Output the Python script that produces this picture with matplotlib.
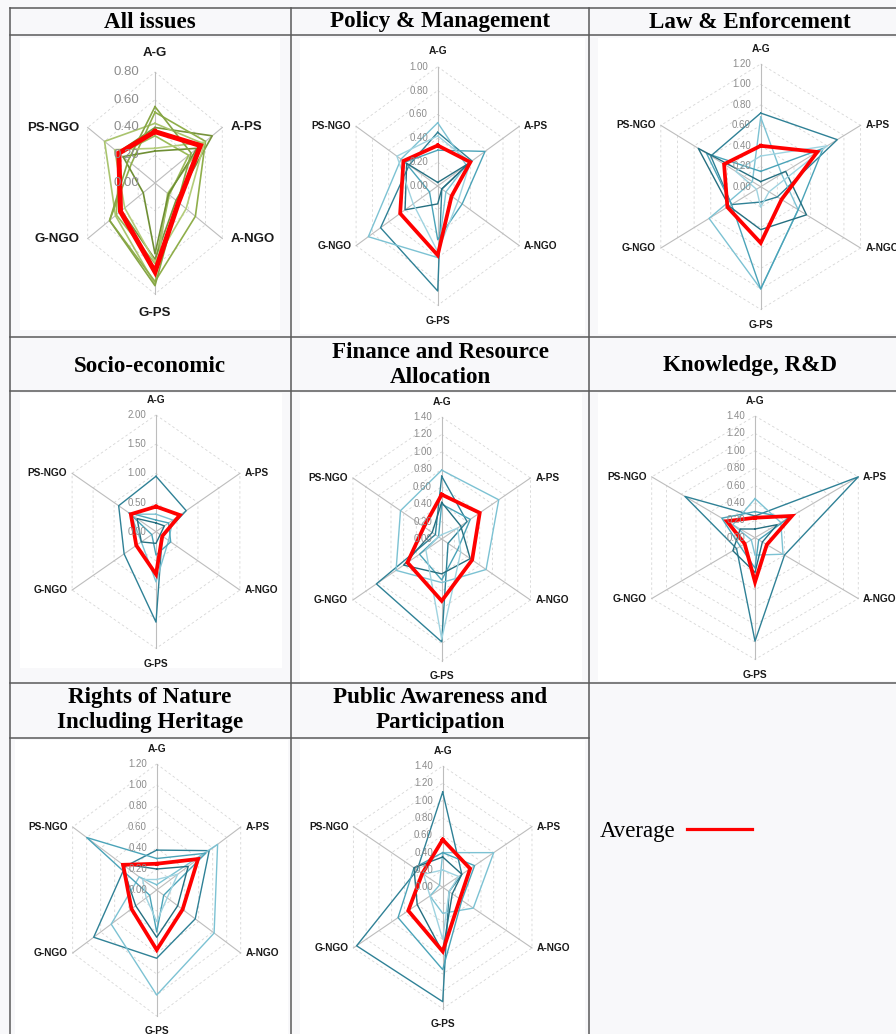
import numpy as np
import matplotlib
matplotlib.use('Agg')
import matplotlib.pyplot as plt
from matplotlib.patches import Rectangle

# axes of every radar, clockwise from the top
axis_names = ['A-G', 'A-PS', 'A-NGO', 'G-PS', 'G-NGO', 'PS-NGO']

# average of each issue (red line in each panel, green lines in "All issues")
policy_avg = [0.34, 0.40, 0.17, 0.58, 0.46, 0.42]
law_avg = [0.40, 0.68, 0.25, 0.55, 0.40, 0.44]
socio_avg = [0.43, 0.57, 0.15, 0.73, 0.47, 0.60]
finance_avg = [0.51, 0.60, 0.48, 0.71, 0.54, 0.28]
knowledge_avg = [0.23, 0.50, 0.16, 0.51, 0.14, 0.38]
rights_avg = [0.25, 0.59, 0.37, 0.57, 0.36, 0.48]
public_avg = [0.55, 0.43, 0.27, 0.74, 0.54, 0.32]
all_avg = [0.37, 0.54, 0.28, 0.64, 0.41, 0.43]

# individual lines of each issue
policy_series = [[0.45, 0.42, 0.05, 0.88, 0.70, 0.35],
                 [0.53, 0.35, 0.10, 0.60, 0.85, 0.45],
                 [0.30, 0.58, 0.30, 0.45, 0.10, 0.40],
                 [0.03, 0.38, 0.05, 0.15, 0.40, 0.38],
                 [0.42, 0.40, 0.25, 0.55, 0.30, 0.50]]
law_series = [[0.72, 0.92, 0.20, 0.15, 0.35, 0.60],
              [0.68, 0.25, 0.45, 1.00, 0.62, 0.10],
              [0.15, 0.75, 0.45, 1.00, 0.35, 0.65],
              [0.05, 0.30, 0.55, 0.42, 0.38, 0.75],
              [0.30, 0.80, 0.10, 0.20, 0.05, 0.30]]
socio_series = [[0.95, 0.72, 0.15, 1.55, 0.76, 0.89],
                [0.30, 0.40, 0.30, 0.86, 0.35, 0.60],
                [0.20, 0.30, 0.35, 0.40, 0.10, 0.65],
                [0.15, 0.20, 0.10, 0.20, 0.35, 0.45]]
finance_series = [[0.72, 0.40, 0.10, 1.18, 1.03, 0.10],
                  [0.79, 0.90, 0.70, 0.50, 0.72, 0.65],
                  [0.40, 0.45, 0.25, 0.47, 0.35, 0.05],
                  [0.42, 0.30, 0.45, 0.40, 0.60, 0.15],
                  [0.05, 0.25, 0.30, 1.15, 0.25, 0.05]]
knowledge_series = [[0.25, 1.40, 0.40, 1.19, 0.25, 0.95],
                    [0.45, 0.35, 0.38, 0.20, 0.05, 0.30],
                    [0.30, 0.45, 0.05, 0.35, 0.20, 0.45],
                    [0.10, 0.30, 0.10, 0.40, 0.30, 0.20]]
rights_series = [[0.38, 0.75, 0.55, 0.65, 0.90, 0.45],
                 [0.05, 0.87, 0.82, 1.00, 0.65, 0.25],
                 [0.30, 0.70, 0.10, 0.40, 0.10, 1.00],
                 [0.20, 0.45, 0.30, 0.45, 0.30, 0.50],
                 [0.10, 0.30, 0.15, 0.30, 0.15, 0.20]]
public_series = [[1.10, 0.30, 0.10, 1.32, 1.35, 0.40],
                 [0.40, 0.80, 0.48, 0.30, 0.20, 0.05],
                 [0.40, 0.50, 0.30, 0.95, 0.70, 0.45],
                 [0.35, 0.30, 0.15, 0.75, 0.40, 0.45],
                 [0.20, 0.25, 0.10, 0.60, 0.20, 0.30]]

W, H = 896, 1034
fig = plt.figure(figsize=(W / 100, H / 100), dpi=100)
fig.patch.set_facecolor('#f8f8fa')

bg = fig.add_axes([0, 0, 1, 1])
bg.set_xlim(0, W)
bg.set_ylim(H, 0)
bg.axis('off')

# white picture areas inside the table cells
for x0, y0, x1, y1 in [(20, 38, 280, 330), (300, 38, 585, 334), (598, 38, 896, 334),
                       (20, 393, 282, 668), (300, 393, 582, 681), (598, 393, 896, 681),
                       (15, 740, 288, 1034), (300, 740, 585, 1034)]:
    bg.add_patch(Rectangle((x0, y0), x1 - x0, y1 - y0, facecolor='white', lw=0))

# table lines
lc, lw = '#5a5a5a', 1.1
for y in [8, 35, 337, 391, 683]:
    bg.plot([10, 912], [y, y], color=lc, lw=lw)
bg.plot([10, 589], [738, 738], color=lc, lw=lw)
for x in [10, 291, 589]:
    bg.plot([x, x], [8, H + 5], color=lc, lw=lw)

title_font = dict(family='Liberation Serif', weight='bold', fontsize=16.6,
                  ha='center', va='center', linespacing=1.25)
titles = [(150, 22, 'All issues'), (440, 22, 'Policy & Management'),
          (750, 22, 'Law & Enforcement'), (150, 366, 'Socio-economic'),
          (440, 365, 'Finance and Resource\nAllocation'), (750, 366, 'Knowledge, R&D'),
          (150, 710, 'Rights of Nature\nIncluding Heritage'),
          (440, 710, 'Public Awareness and\nParticipation')]
for x, y, t in titles:
    bg.text(x, y, t, **title_font)

# legend cell
bg.text(600, 832, 'Average', family='Liberation Serif', fontsize=16.5, ha='left', va='center')
bg.plot([687, 752], [829, 829], color='red', lw=2.3)

label_fam = 'Liberation Sans'
teal = ['#2f8196', '#7cc2d3', '#4aa3b8', '#256f80', '#9fd3e0']
green = ['#9bbb59', '#77933c', '#a9c46e', '#8fae4a', '#6f8f34', '#b3cc7a', '#86a545']


def radar(cx, cy, R, f, rmax, step, series, colors, avg, big=False):
    ax = fig.add_axes([(cx - R * f) / W, 1 - (cy + R) / H, 2 * R * f / W, 2 * R / H],
                      projection='polar')
    ax.set_aspect('auto')
    ax.set_theta_offset(np.pi / 2)
    ax.set_theta_direction(-1)
    ax.set_ylim(0, rmax)
    ax.axis('off')
    theta = np.linspace(0, 2 * np.pi, 6, endpoint=False)
    closed = np.append(theta, theta[0])
    ticks = np.arange(0, rmax + step / 2, step)
    for t in ticks[1:]:
        ax.plot(closed, [t] * 7, ls=(0, (3, 3)), color='#d6d6d6', lw=0.6, clip_on=False)
    for th in theta:
        ax.plot([th, th], [0, rmax], color='#bdbdbd', lw=0.8, clip_on=False)

    for i, s in enumerate(series):
        ax.plot(closed, s + s[:1], color=colors[i % len(colors)],
                lw=1.2 if big else 1.0, clip_on=False)
    ax.plot(closed, avg + avg[:1], color='red', lw=3.6 if big else 2.7,
            solid_joinstyle='miter', clip_on=False)

    tsize = 9.5 if big else 7
    for t in ticks:
        ax.annotate(f'{t:.2f}', xy=(0, t), xytext=(-11 if big else -7, 0),
                    textcoords='offset points', ha='right', va='center',
                    color='#8c8c8c', fontsize=tsize, family=label_fam)

    lsize = 9.5 if big else 7.3
    d = 14 if big else 11
    s = 6 if big else 3.5
    offsets = [((0, d), 'center'), ((s, 0), 'left'), ((s, 0), 'left'),
               ((0, -d), 'center'), ((-s, 0), 'right'), ((-s, 0), 'right')]
    for th, name, (off, ha) in zip(theta, axis_names, offsets):
        ax.annotate(name, xy=(th, rmax), xytext=off, textcoords='offset points',
                    ha=ha, va='center', fontsize=lsize, weight='bold',
                    family=label_fam, color='#1a1a1a', annotation_clip=False)


issue_avgs = [policy_avg, law_avg, socio_avg, finance_avg, knowledge_avg,
              rights_avg, public_avg]

radar(155, 183, 111, 0.70, 0.8, 0.2, issue_avgs, green, all_avg, big=True)
radar(437.7, 186, 119.3, 0.79, 1.0, 0.2, policy_series, teal, policy_avg)
radar(760.7, 186.7, 122.7, 0.94, 1.2, 0.2, law_series, teal, law_avg)
radar(156, 531.7, 116.7, 0.83, 2.0, 0.5, socio_series, teal, socio_avg)
radar(441.7, 539, 122, 0.84, 1.4, 0.2, finance_series, teal, finance_avg)
radar(755, 537.7, 121.7, 0.98, 1.4, 0.2, knowledge_series, teal, knowledge_avg)
radar(156.7, 890, 126, 0.77, 1.2, 0.2, rights_series, teal, rights_avg)
radar(442.7, 887.3, 121.3, 0.85, 1.4, 0.2, public_series, teal, public_avg)

fig.savefig('out.png', dpi=100, facecolor=fig.get_facecolor())
